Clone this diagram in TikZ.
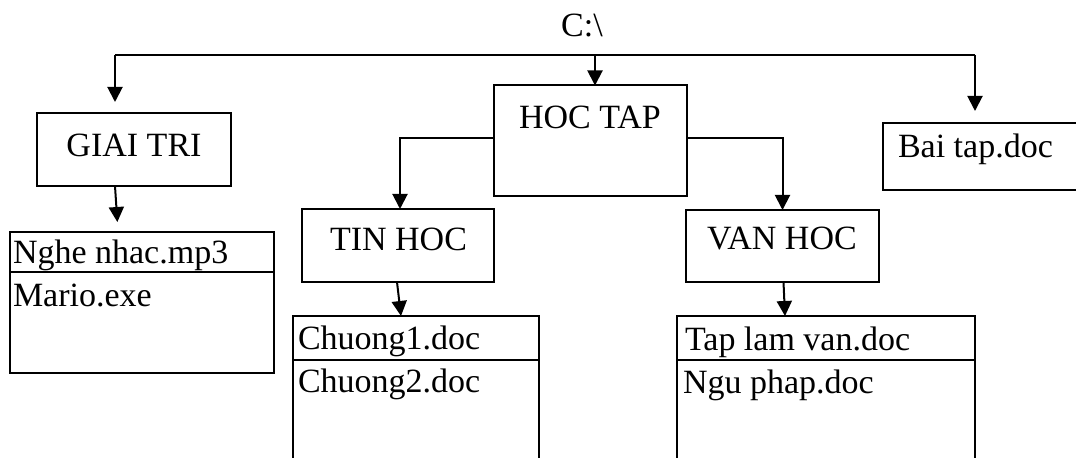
\documentclass[tikz,border=0pt]{standalone}
\usepackage{fontspec}
\setmainfont{Liberation Serif}
\usetikzlibrary{arrows.meta}
\tikzset{
  every node/.style={font=\fontsize{17pt}{20pt}\selectfont, inner sep=0pt, outer sep=0pt},
  box/.style={draw, line width=1pt, inner sep=0pt, outer sep=0pt},
  arr/.style={line width=1pt, -{Triangle[length=7.5pt,width=7.5pt]}},
  conn/.style={line width=1pt}
}
\begin{document}
\begin{tikzpicture}[x=0.5pt,y=-0.5pt]
\useasboundingbox (0,0) rectangle (1076,458);
\clip (0,0) rectangle (1076,458);
% boxes
\node[box, minimum width=97pt, minimum height=36.5pt] (giai) at (134,149.5) {};
\node[box, minimum width=96.5pt, minimum height=55.5pt] (hoc) at (590.5,141) {};
\node[box, minimum width=103.5pt, minimum height=33.5pt] (bai) at (986.5,156.5) {};
\node[box, minimum width=96pt, minimum height=36.5pt] (tin) at (398,245.5) {};
\node[box, minimum width=96.5pt, minimum height=36pt] (van) at (782.5,246) {};
\node[box, minimum width=132pt, minimum height=70.5pt] (list1) at (142,302.5) {};
\node[box, minimum width=123pt, minimum height=82pt] (list2) at (416,398) {};
\node[box, minimum width=149pt, minimum height=82pt] (list3) at (826,398) {};
% dividers
\draw[conn] (list1.west |- 0,272) -- (list1.east |- 0,272);
\draw[conn] (list2.west |- 0,360) -- (list2.east |- 0,360);
\draw[conn] (list3.west |- 0,360) -- (list3.east |- 0,360);
% texts
\node[anchor=base] (croot) at (582,37) {C:\textbackslash};
\node[anchor=base] (tgiai) at (134,157) {GIAI TRI};
\node[anchor=base] (thoc) at (590,129) {HOC TAP};
\node[anchor=base] (ttin) at (398.5,251) {TIN HOC};
\node[anchor=base] (tvan) at (782,250) {VAN HOC};
\node[anchor=base west] (tbai) at (898,158) {Bai tap.doc};
\node[anchor=base west] (f1) at (13,264) {Nghe nhac.mp3};
\node[anchor=base west] (f2) at (13,307) {Mario.exe};
\node[anchor=base west] (f3) at (298,350) {Chuong1.doc};
\node[anchor=base west] (f4) at (298,393) {Chuong2.doc};
\node[anchor=base west] (f5) at (685,351) {Tap lam van.doc};
\node[anchor=base west] (f6) at (683,394) {Ngu phap.doc};
% top connectors
\coordinate (lt) at (115,55);
\coordinate (rt) at (975,55);
\coordinate (mt) at (595,55);
\draw[conn] (lt) -- (rt);
\draw[arr, shorten >=5.5pt] (lt) -- (lt |- giai.north);
\draw[arr, shorten >=6pt] (rt) -- (rt |- bai.north);
\draw[arr] (mt) -- (mt |- hoc.north);
% HOC TAP branches
\draw[arr] ([yshift=1.5pt]hoc.west) -| ([xshift=1pt]tin.north);
\draw[arr] ([yshift=1.5pt]hoc.east) -| (van.north);
% down to lists
\draw[arr, shorten >=5pt] ([xshift=-9.5pt]giai.south) -- ([xshift=-12pt]list1.north);
\draw[arr] ([xshift=-0.5pt]tin.south) -- ([xshift=-7.5pt]list2.north);
\draw[arr] ([xshift=0.5pt]van.south) -- ([xshift=-20.5pt]list3.north);
\end{tikzpicture}
\end{document}
